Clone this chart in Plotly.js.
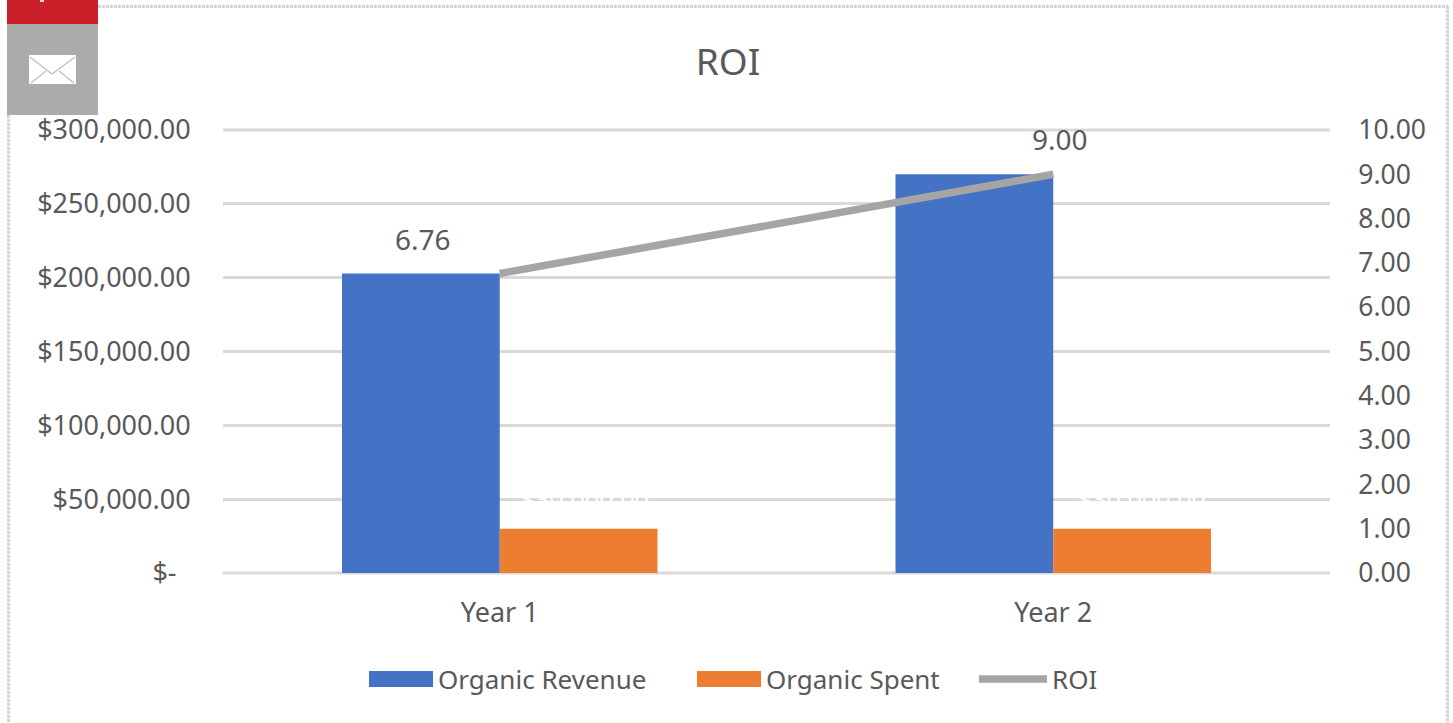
<!DOCTYPE html>
<html><head><meta charset="utf-8">
<script src="https://cdn.plot.ly/plotly-3.0.1.min.js"></script>
<style>html,body{margin:0;padding:0;background:#fff;overflow:hidden}</style></head>
<body><div id="c" style="width:1453px;height:723px"></div>
<script>
const categories = ['Year 1', 'Year 2'];
const organicRevenue = [202800, 270000];
const organicSpent = [30000, 30000];
const roi = [6.76, 9.00];
const leftTicks = [0, 50000, 100000, 150000, 200000, 250000, 300000];
const leftLabels = ['$-\u00a0\u00a0', '$50,000.00', '$100,000.00', '$150,000.00', '$200,000.00', '$250,000.00', '$300,000.00'];
const rightTicks = [0,1,2,3,4,5,6,7,8,9,10];
const rightLabels = ['0.00','1.00','2.00','3.00','4.00','5.00','6.00','7.00','8.00','9.00','10.00'];

const W=1453,H=723,L=223,R=1330,T=130,B=573;
const px=x=>(x-L)/(R-L), py=y=>(B-y)/(B-T);
const FONT='"Noto Sans", sans-serif', TXT='#595959', GRID='#D9D9D9';
const BLUE='#4472C4', ORANGE='#ED7D31', GREY='#A5A5A5';
const rect=(x0,y0,x1,y1,fill)=>({type:'rect',xref:'paper',yref:'paper',x0:px(x0),x1:px(x1),y0:py(y1),y1:py(y0),fillcolor:fill,line:{width:0},layer:'above'});
const seg=(x0,y0,x1,y1,c,w,d)=>({type:'line',xref:'paper',yref:'paper',x0:px(x0),x1:px(x1),y0:py(y0),y1:py(y1),line:{color:c,width:w,dash:d||'solid'},layer:'above'});
const gridEdge=f=>({type:'line',xref:'paper',yref:'paper',x0:0,x1:1,y0:f,y1:f,line:{color:GRID,width:3},layer:'below'});
const legendBox=(x,y,width)=>({orientation:'h',x:px(x),xanchor:'left',y:py(y),yanchor:'middle',itemwidth:width,font:{size:26,color:TXT},bgcolor:'rgba(0,0,0,0)',itemclick:false,itemdoubleclick:false});

const traces=[
 {type:'bar',name:'Organic Revenue',x:categories,y:organicRevenue,marker:{color:BLUE},showlegend:false,hoverinfo:'skip'},
 {type:'bar',name:'Organic Spent',x:categories,y:organicSpent,marker:{color:ORANGE},showlegend:false,hoverinfo:'skip'},
 {type:'scatter',mode:'lines',name:'ROI',x:categories,y:roi,yaxis:'y2',line:{color:GREY,width:7.5},showlegend:false,hoverinfo:'skip'},
 {type:'scatter',mode:'lines',name:'Organic Revenue',x:[null],y:[null],line:{color:BLUE,width:10},legend:'legend'},
 {type:'scatter',mode:'lines',name:'Organic Spent',x:[null],y:[null],line:{color:ORANGE,width:10},legend:'legend2'},
 {type:'scatter',mode:'lines',name:'ROI',x:[null],y:[null],line:{color:GREY,width:7.5},legend:'legend3'}
];
const layout={
 width:W,height:H,margin:{l:L,r:W-R,t:T,b:H-B,pad:0},paper_bgcolor:'#fff',plot_bgcolor:'#fff',
 font:{family:FONT,color:TXT,size:26},
 title:{text:'ROI',x:(728)/W,xanchor:'center',y:1-62/H,yanchor:'middle',font:{size:37,family:FONT,color:TXT}},
 barmode:'group',bargap:0.43,bargroupgap:0,
 xaxis:{type:'category',categories:categories,tickfont:{size:27,color:TXT},showgrid:false,zeroline:false,showline:false,ticks:'outside',ticklen:16,tickcolor:'rgba(0,0,0,0)',automargin:false,title:{text:''}},
 yaxis:{range:[0,300000],tickvals:leftTicks,ticktext:leftLabels,gridcolor:GRID,gridwidth:3,zeroline:false,showline:false,ticks:'outside',ticklen:26,tickcolor:'rgba(0,0,0,0)',tickfont:{size:27,color:TXT},automargin:false},
 yaxis2:{overlaying:'y',side:'right',range:[0,10],tickvals:rightTicks,ticktext:rightLabels,showgrid:false,zeroline:false,showline:false,ticks:'outside',ticklen:22,tickcolor:'rgba(0,0,0,0)',tickfont:{size:26.5,color:TXT},automargin:false},
 legend:legendBox(364,679,64),
 legend2:legendBox(692,679,64),
 legend3:legendBox(974,679,68),
 annotations:[
  {x:categories[0],y:roi[0],xref:'x',yref:'y2',text:roi[0].toFixed(2),showarrow:false,xshift:-77,yshift:35,font:{size:28,color:TXT,family:FONT}},
  {x:categories[1],y:roi[1],xref:'x',yref:'y2',text:roi[1].toFixed(2),showarrow:false,xshift:7,yshift:35,font:{size:28,color:TXT,family:FONT}},
  {x:categories[0],y:organicSpent[0],xref:'x',yref:'y',text:'$30,000.00',showarrow:false,xshift:85,yshift:30,font:{size:25,color:'#ffffff',family:FONT}},
  {x:categories[1],y:organicSpent[1],xref:'x',yref:'y',text:'$30,000.00',showarrow:false,xshift:89,yshift:30,font:{size:25,color:'#ffffff',family:FONT}}
 ],
 shapes:[
  gridEdge(0),
  gridEdge(1),
  seg(98,6.5,1448,6.5,'#D4D4D4',3,'3px,1px'),
  seg(8.5,115,8.5,723,'#D4D4D4',3,'3px,1px'),
  seg(1447.5,6,1447.5,723,'#D4D4D4',3,'3px,1px'),
  rect(369,671,433,687,BLUE),
  rect(697,671,761,687,ORANGE),
  rect(7,0,98,24,'#CB202A'),
  rect(7,24,98,115,'#ABABAB'),
  rect(40,0,44,2,'#F5D5D5'),
  rect(29,55,76,84,'#FFFFFF'),
  seg(30,57,52,74,'#BDBDBD',1.2),
  seg(52,74,75,57,'#BDBDBD',1.2),
  seg(31,83,46,71,'#BDBDBD',1.2),
  seg(74,83,59,71,'#BDBDBD',1.2)
 ]
};
Plotly.newPlot('c',traces,layout,{staticPlot:true,displayModeBar:false});
</script></body></html>
